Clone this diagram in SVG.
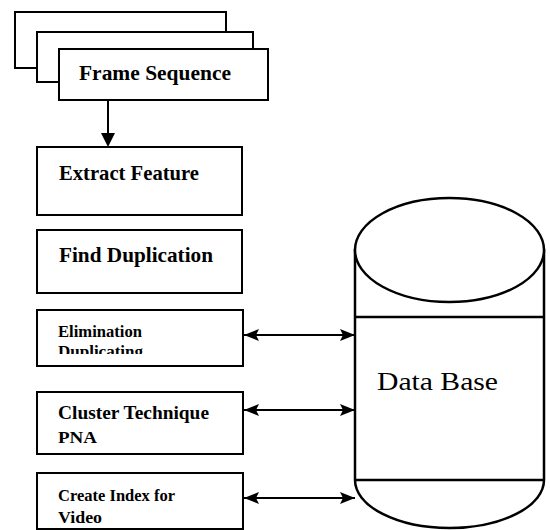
<svg xmlns="http://www.w3.org/2000/svg" width="550" height="530" viewBox="0 0 550 530">
  <style>
    .box { fill: #fff; stroke: #000; stroke-width: 2; }
    .lbl { font-family: "Liberation Serif", "Times New Roman", serif; font-weight: bold; fill: #000; }
    .db { fill: #fff; stroke: #000; stroke-width: 2.5; }
    .dbline { fill: none; stroke: #000; stroke-width: 2.5; }
    .wire { fill: none; stroke: #000; stroke-width: 2; }
  </style>
  <defs>
    <marker id="head" viewBox="0 0 15 12" refX="15" refY="6" markerWidth="15" markerHeight="12" markerUnits="userSpaceOnUse" orient="auto-start-reverse">
      <path d="M0,0 L15,6 L0,12 L3,6 z" fill="#000"/>
    </marker>
    <clipPath id="clipElim">
      <rect x="38" y="311" width="204" height="43"/>
    </clipPath>
  </defs>
  <rect width="550" height="530" fill="#fff"/>

  <!-- stacked frames -->
  <g id="frame-sequence">
    <rect class="box" x="15" y="12" width="211" height="56"/>
    <rect class="box" x="37" y="32" width="216" height="50"/>
    <rect class="box" x="59" y="49" width="209" height="51"/>
    <text class="lbl" x="79" y="80" font-size="20" textLength="152" lengthAdjust="spacingAndGlyphs">Frame Sequence</text>
  </g>

  <g id="extract-feature">
    <rect class="box" x="37" y="147" width="205" height="68"/>
    <text class="lbl" x="59" y="180" font-size="21" textLength="140" lengthAdjust="spacingAndGlyphs">Extract Feature</text>
  </g>

  <g id="find-duplication">
    <rect class="box" x="37" y="230" width="205" height="63"/>
    <text class="lbl" x="59" y="262" font-size="21" textLength="154" lengthAdjust="spacingAndGlyphs">Find Duplication</text>
  </g>

  <g id="elimination">
    <rect class="box" x="37" y="310" width="206" height="56"/>
    <text class="lbl" x="58" y="337" font-size="16.5" textLength="84" lengthAdjust="spacingAndGlyphs">Elimination</text>
    <text class="lbl" x="58" y="357" font-size="16.5" textLength="85" lengthAdjust="spacingAndGlyphs" clip-path="url(#clipElim)">Duplicating</text>
  </g>

  <g id="cluster-technique">
    <rect class="box" x="37" y="392" width="206" height="62"/>
    <text class="lbl" x="58" y="419" font-size="19" textLength="151" lengthAdjust="spacingAndGlyphs">Cluster Technique</text>
    <text class="lbl" x="58" y="443" font-size="17" textLength="39" lengthAdjust="spacingAndGlyphs">PNA</text>
  </g>

  <g id="create-index">
    <rect class="box" x="37" y="473" width="206" height="56"/>
    <text class="lbl" x="58" y="501" font-size="16.5" textLength="117" lengthAdjust="spacingAndGlyphs">Create Index for</text>
    <text class="lbl" x="58" y="523" font-size="16.5" textLength="44" lengthAdjust="spacingAndGlyphs">Video</text>
  </g>

  <!-- database cylinder -->
  <g id="data-base">
    <path class="db" d="M355,250 L355,480 A94.5,48 0 0 0 544,480 L544,250 Z"/>
    <ellipse class="db" cx="449.5" cy="250" rx="94.5" ry="52"/>
    <line class="dbline" x1="355" y1="317" x2="544" y2="317"/>
    <line class="dbline" x1="355" y1="480" x2="544" y2="480"/>
    <text x="377" y="390" font-family="Liberation Serif, Times New Roman, serif" font-size="26" textLength="121" lengthAdjust="spacingAndGlyphs" fill="#000">Data Base</text>
  </g>

  <!-- connectors -->
  <g id="connectors">
    <line class="wire" x1="108" y1="100" x2="108" y2="134"/>
    <polygon points="101,133 115,133 108,147" fill="#000"/>
    <line class="wire" x1="244" y1="335" x2="355" y2="335" marker-start="url(#head)" marker-end="url(#head)"/>
    <line class="wire" x1="244" y1="410" x2="355" y2="410" marker-start="url(#head)" marker-end="url(#head)"/>
    <line class="wire" x1="244" y1="498" x2="355" y2="498" marker-start="url(#head)" marker-end="url(#head)"/>
  </g>
</svg>
